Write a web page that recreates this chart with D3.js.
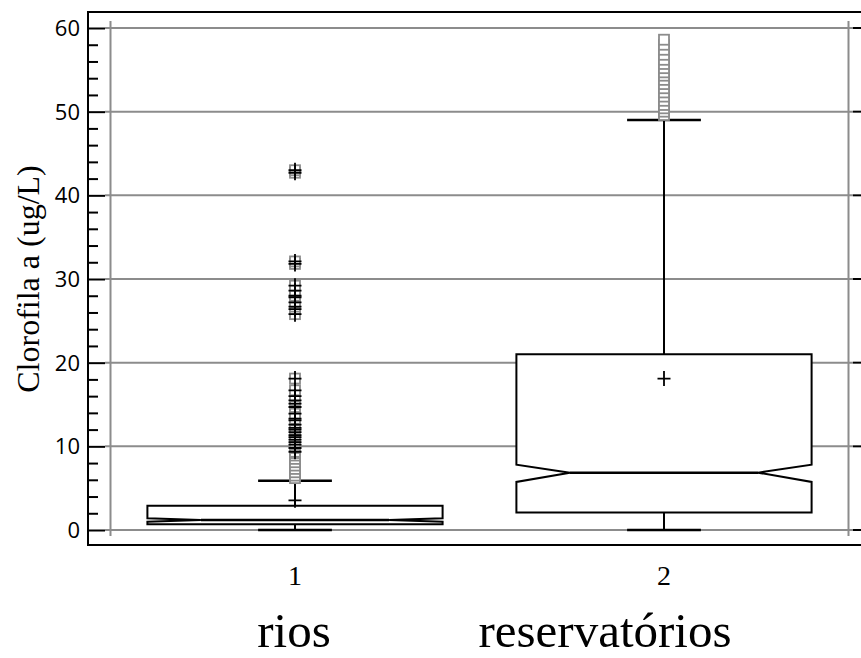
<!DOCTYPE html>
<html>
<head>
<meta charset="utf-8">
<script src="https://cdn.jsdelivr.net/npm/d3@7"></script>
<style>
  body { margin: 0; background: #fff; }
  svg { display: block; }
</style>
</head>
<body>
<div id="chart"></div>
<script>
// chart values
const categories = [1, 2];
const groupNames = ["rios", "reservatórios"];
const yTicks = [0, 10, 20, 30, 40, 50, 60];
const q1 = [0.7, 2.1];
const medians = [1.2, 6.85];
const q3 = [2.9, 21.0];
const notchLow = [1.0, 5.75];
const notchHigh = [1.4, 7.8];
const whiskerLow = [0, 0];
const whiskerHigh = [5.9, 49.0];
const means = [3.55, 18.1];

// points outside the whiskers (squares)
const outside1 = [6.2, 6.5, 6.9, 7.3, 7.7, 8.1, 8.5, 8.9, 9.2,
    9.35, 9.8, 10.2, 10.5, 10.8, 11.1, 11.35, 11.7, 12.0, 12.2, 12.6, 13.1, 13.3,
    13.9, 14.7, 15.1, 15.5, 16.0, 16.7, 18.1,
    25.8, 26.4, 26.7, 27.2, 27.8, 28.0, 28.6, 29.2, 31.8, 32.1, 42.7, 43.0];
const outside2 = [49.6, 50.0, 50.4, 50.8, 51.3, 51.8, 52.3, 52.8, 53.3, 53.8,
    54.3, 54.7, 55.2, 55.7, 56.2, 56.8, 57.4, 58.0, 58.6];
// far outside points get a plus on top of the square
const farLimit = [9.3, 80];

const width = 861, height = 658;

const svg = d3.select('#chart').append('svg')
    .attr('width', width)
    .attr('height', height);

const x = d3.scaleLinear().domain([0.5, 2.5]).range([110.5, 848.5]);
const y = d3.scaleLinear().domain([0, 60]).range([530, 28]);

const gridColor = '#8c8c8c';

// frame
svg.append('rect')
    .attr('x', 88).attr('y', 12)
    .attr('width', 786).attr('height', 533)
    .attr('fill', 'none').attr('stroke', '#000').attr('stroke-width', 2);

// horizontal grid lines
svg.append('g')
    .selectAll('line')
    .data(yTicks)
    .join('line')
    .attr('x1', 105).attr('x2', 853)
    .attr('y1', d => y(d)).attr('y2', d => y(d))
    .attr('stroke', gridColor).attr('stroke-width', 2);

// vertical lines at the ends of the x range
svg.append('g')
    .selectAll('line')
    .data([0.5, 2.5])
    .join('line')
    .attr('x1', d => x(d)).attr('x2', d => x(d))
    .attr('y1', 21).attr('y2', 536)
    .attr('stroke', gridColor).attr('stroke-width', 2);

// y axis on the left: major and minor ticks inside the frame
const leftAxis = d3.axisRight(y)
    .tickValues(d3.range(0, 61, 2))
    .tickSize(10)
    .tickFormat('');
const gl = svg.append('g')
    .attr('transform', 'translate(88,0)')
    .call(leftAxis);
gl.select('.domain').remove();
gl.selectAll('.tick line')
    .attr('stroke', '#000').attr('stroke-width', 2)
    .attr('x2', d => d % 10 === 0 ? 17 : 10);

// right side major ticks
svg.append('g')
    .selectAll('line')
    .data(yTicks)
    .join('line')
    .attr('x1', 853).attr('x2', 874)
    .attr('y1', d => y(d)).attr('y2', d => y(d))
    .attr('stroke', '#000').attr('stroke-width', 2);

// tick labels
svg.append('g')
    .selectAll('text')
    .data(yTicks)
    .join('text')
    .attr('x', 80)
    .attr('y', d => y(d))
    .attr('dy', '0.36em')
    .attr('text-anchor', 'end')
    .style('font-family', '"Open Sans", sans-serif')
    .style('font-weight', 400)
    .style('font-size', '22px')
    .text(d => d);

// y axis title
svg.append('text')
    .attr('transform', `translate(39,${(y(0) + y(60)) / 2}) rotate(-90)`)
    .attr('text-anchor', 'middle')
    .style('font-family', '"Liberation Serif", "Times New Roman", serif')
    .style('font-size', '32px')
    .text('Clorofila a (ug/L)');

// x tick labels
svg.append('g')
    .selectAll('text')
    .data(categories)
    .join('text')
    .attr('x', d => x(d))
    .attr('y', 585)
    .attr('text-anchor', 'middle')
    .style('font-family', '"Liberation Serif", "Times New Roman", serif')
    .style('font-size', '28px')
    .text(d => d);

// group names under the axis
const namePos = [294, 605];
svg.append('g')
    .selectAll('text')
    .data(groupNames)
    .join('text')
    .attr('x', (d, i) => namePos[i])
    .attr('y', 647)
    .attr('text-anchor', 'middle')
    .style('font-family', '"Liberation Serif", "Times New Roman", serif')
    .style('font-size', '49px')
    .text(d => d);

// box plots
const halfBox = 0.4, halfNotch = 0.255, halfCap = 0.1;
const boxes = categories.map((c, i) => ({
    c, q1: q1[i], med: medians[i], q3: q3[i],
    nLo: notchLow[i], nHi: notchHigh[i],
    wLo: whiskerLow[i], wHi: whiskerHigh[i], mean: means[i]
}));

const gb = svg.append('g');

// whiskers
gb.selectAll('line.whi')
    .data(boxes.flatMap(b => [[b.c, b.q3, b.wHi], [b.c, b.q1, b.wLo]]))
    .join('line')
    .attr('class', 'whi')
    .attr('x1', d => x(d[0])).attr('x2', d => x(d[0]))
    .attr('y1', d => y(d[1])).attr('y2', d => y(d[2]))
    .attr('stroke', '#000').attr('stroke-width', 2);

// whisker caps
gb.selectAll('line.cap')
    .data(boxes.flatMap(b => [[b.c, b.wHi], [b.c, b.wLo]]))
    .join('line')
    .attr('class', 'cap')
    .attr('x1', d => x(d[0] - halfCap)).attr('x2', d => x(d[0] + halfCap))
    .attr('y1', d => y(d[1])).attr('y2', d => y(d[1]))
    .attr('stroke', '#000').attr('stroke-width', 2.5);

// notched boxes
const boxPath = b => {
    const p = d3.path();
    p.moveTo(x(b.c - halfBox), y(b.q1));
    p.lineTo(x(b.c - halfBox), y(b.nLo));
    p.lineTo(x(b.c - halfNotch), y(b.med));
    p.lineTo(x(b.c - halfBox), y(b.nHi));
    p.lineTo(x(b.c - halfBox), y(b.q3));
    p.lineTo(x(b.c + halfBox), y(b.q3));
    p.lineTo(x(b.c + halfBox), y(b.nHi));
    p.lineTo(x(b.c + halfNotch), y(b.med));
    p.lineTo(x(b.c + halfBox), y(b.nLo));
    p.lineTo(x(b.c + halfBox), y(b.q1));
    p.closePath();
    return p.toString();
};

gb.selectAll('path.box')
    .data(boxes)
    .join('path')
    .attr('class', 'box')
    .attr('d', boxPath)
    .attr('fill', '#fff')
    .attr('stroke', '#000').attr('stroke-width', 2)
    .attr('stroke-linejoin', 'miter');

gb.selectAll('line.med')
    .data(boxes)
    .join('line')
    .attr('class', 'med')
    .attr('x1', d => x(d.c - halfNotch)).attr('x2', d => x(d.c + halfNotch))
    .attr('y1', d => y(d.med)).attr('y2', d => y(d.med))
    .attr('stroke', '#000').attr('stroke-width', 2.5);

// outlier squares
const outliers = [
    ...outside1.map(v => ({ c: 1, v, far: v > farLimit[0] })),
    ...outside2.map(v => ({ c: 2, v, far: v > farLimit[1] }))
];
const sq = 10;
gb.selectAll('rect.out')
    .data(outliers)
    .join('rect')
    .attr('class', 'out')
    .attr('x', d => x(d.c) - sq / 2)
    .attr('y', d => y(d.v) - sq / 2)
    .attr('width', sq).attr('height', sq)
    .attr('fill', '#fff')
    .attr('stroke', gridColor).attr('stroke-width', 1.8);

// plus marks: far outside points and the means
const plusPath = (cx, cy, hw, hh) =>
    `M${cx - hw},${cy}H${cx + hw}M${cx},${cy - hh}V${cy + hh}`;

gb.selectAll('path.far')
    .data(outliers.filter(d => d.far))
    .join('path')
    .attr('class', 'far')
    .attr('d', d => plusPath(x(d.c), y(d.v), 6.5, 7.5))
    .attr('stroke', '#000').attr('stroke-width', 1.8).attr('fill', 'none');

gb.selectAll('path.mean')
    .data(boxes)
    .join('path')
    .attr('class', 'mean')
    .attr('d', d => plusPath(x(d.c), y(d.mean), 6.5, 7.5))
    .attr('stroke', '#000').attr('stroke-width', 1.8).attr('fill', 'none');
</script>
</body>
</html>
